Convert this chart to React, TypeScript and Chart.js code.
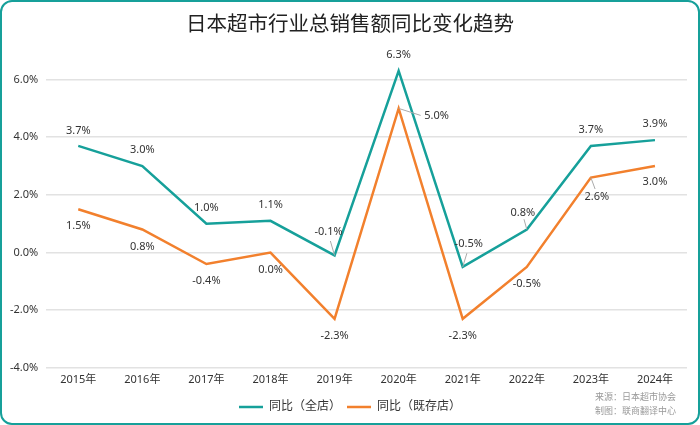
import { Chart, registerables } from "chart.js";
import type { Plugin } from "chart.js";
import { useEffect, useRef } from "react";

Chart.register(...registerables);

const years = ["2015年", "2016年", "2017年", "2018年", "2019年", "2020年", "2021年", "2022年", "2023年", "2024年"];
const allStores = [3.7, 3.0, 1.0, 1.1, -0.1, 6.3, -0.5, 0.8, 3.7, 3.9];
const existingStores = [1.5, 0.8, -0.4, 0.0, -2.3, 5.0, -2.3, -0.5, 2.6, 3.0];
const sourceLines = ["来源：日本超市协会", "制图：联商翻译中心"];

const TEAL = "#16a09a";
const ORANGE = "#f2802d";
const FONT = "'Noto Sans', 'Noto Sans CJK SC', sans-serif";

// label offsets in px from each point; leader = draw a small grey line
const tealOffsets: [number, number, boolean][] = [
  [0, -15, false], [0, -16, false], [0, -16, false], [0, -16, false], [-6, -24, true],
  [0, -16, false], [6, -23, true], [-4, -17, true], [0, -16, false], [0, -16, false],
];
const orangeOffsets: [number, number, boolean][] = [
  [0, 17, false], [0, 17, false], [0, 17, false], [0, 17, false], [0, 17, false],
  [38, 7, true], [0, 17, false], [0, 17, false], [6, 19, true], [0, 16, false],
];

const labelPlugin: Plugin<"line"> = {
  id: "pointLabels",
  afterDatasetsDraw(chart) {
    const ctx = chart.ctx;
    ctx.save();
    ctx.font = `11px ${FONT}`;
    ctx.textAlign = "center";
    ctx.textBaseline = "middle";
    chart.data.datasets.forEach((ds, di) => {
      const meta = chart.getDatasetMeta(di);
      const offs = di === 0 ? tealOffsets : orangeOffsets;
      meta.data.forEach((pt, i) => {
        const [dx, dy, leader] = offs[i];
        const x = pt.x;
        const y = pt.y;
        if (leader) {
          ctx.strokeStyle = "#aaaaaa";
          ctx.lineWidth = 1;
          ctx.beginPath();
          ctx.moveTo(x, y);
          const lx = dx > 20 ? x + dx - 16 : x + dx * 0.7;
          const ly = dx > 20 ? y + dy : y + dy * 0.6;
          ctx.lineTo(lx, ly);
          ctx.stroke();
        }
        ctx.fillStyle = "#333333";
        const v = ds.data[i] as number;
        ctx.fillText(v.toFixed(1) + "%", x + dx, y + dy);
      });
    });
    ctx.restore();
  },
};

const sourcePlugin: Plugin<"line"> = {
  id: "sourceNote",
  afterDraw(chart) {
    const ctx = chart.ctx;
    ctx.save();
    ctx.font = `9px ${FONT}`;
    ctx.fillStyle = "#999999";
    ctx.textAlign = "right";
    ctx.textBaseline = "middle";
    sourceLines.forEach((t, i) => ctx.fillText(t, chart.width - 22, 395 + i * 14));
    ctx.restore();
  },
};

function App(): JSX.Element {
  const canvasRef = useRef<HTMLCanvasElement | null>(null);

  useEffect(() => {
    document.body.style.margin = "0";
    const canvas = canvasRef.current;
    if (!canvas) return;
    const chart = new Chart(canvas, {
      type: "line",
      data: {
        labels: years,
        datasets: [
          {
            label: "同比（全店）",
            data: allStores,
            borderColor: TEAL,
            backgroundColor: TEAL,
            borderWidth: 2.5,
            pointRadius: 0,
            clip: false,
          },
          {
            label: "同比（既存店）",
            data: existingStores,
            borderColor: ORANGE,
            backgroundColor: ORANGE,
            borderWidth: 2.5,
            pointRadius: 0,
            clip: false,
          },
        ],
      },
      options: {
        animation: false,
        responsive: true,
        maintainAspectRatio: false,
        layout: { padding: { left: 0, right: 0, top: 0, bottom: 0 } },
        scales: {
          x: {
            offset: true,
            grid: { display: false, drawTicks: false },
            border: { display: false },
            ticks: { color: "#333", font: { family: FONT, size: 11 }, padding: 5 },
            afterFit: (scale) => {
              scale.height += 4;
              scale.paddingRight = 11;
            },
          },
          y: {
            min: -4,
            max: 6,
            grid: { color: "#e2e2e2", lineWidth: 1.5, drawTicks: false },
            border: { display: false },
            ticks: {
              stepSize: 2,
              color: "#333",
              padding: 8,
              font: { family: FONT, size: 11 },
              callback: (v) => Number(v).toFixed(1) + "%",
            },
          },
        },
        plugins: {
          title: {
            display: true,
            text: "日本超市行业总销售额同比变化趋势",
            color: "#222",
            font: { family: FONT, size: 20.5, weight: "normal" },
            padding: { top: 11, bottom: 42 },
          },
          legend: {
            position: "bottom",
            labels: {
              usePointStyle: true,
              pointStyle: "line",
              pointStyleWidth: 24,
              color: "#333",
              font: { family: FONT, size: 12 },
              padding: 6,
            },
          },
          tooltip: { enabled: false },
        },
      },
      plugins: [labelPlugin, sourcePlugin],
    });
    return () => {
      chart.destroy();
    };
  }, []);

  return (
    <div
      style={{
        width: 700,
        height: 425,
        boxSizing: "border-box",
        border: `2px solid ${TEAL}`,
        borderRadius: 12,
        background: "#fff",
        position: "relative",
      }}
    >
      <canvas ref={canvasRef}></canvas>
    </div>
  );
}

export default App;
